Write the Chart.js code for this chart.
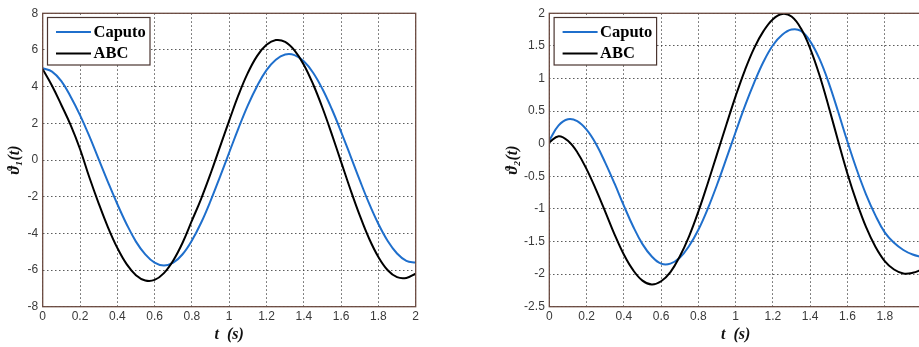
<!DOCTYPE html>
<html><head><meta charset="utf-8">
<script src="https://cdn.jsdelivr.net/npm/chart.js@4/dist/chart.umd.min.js"></script>
<style>
html,body{margin:0;padding:0;background:#fff;overflow:hidden;width:919px;height:347px;}
#c1{position:absolute;left:0;top:0;}
#c2{position:absolute;left:500px;top:0;}
</style></head><body>
<canvas id="c1" width="460" height="347"></canvas>
<canvas id="c2" width="440" height="347"></canvas>
<script>
// time samples (s)
const t = [0,0.05,0.1,0.15,0.2,0.25,0.3,0.35,0.4,0.45,0.5,0.55,0.6,0.65,0.7,0.75,0.8,0.85,0.9,0.95,1,1.05,1.1,1.15,1.2,1.25,1.3,1.35,1.4,1.45,1.5,1.55,1.6,1.65,1.7,1.75,1.8,1.85,1.9,1.95,2];
// theta_1(t)
const theta1Caputo = [5.00,4.82,4.30,3.45,2.45,1.30,0.05,-1.20,-2.40,-3.50,-4.45,-5.15,-5.60,-5.76,-5.60,-5.14,-4.39,-3.41,-2.23,-0.93,0.41,1.74,2.98,4.04,4.90,5.47,5.75,5.72,5.38,4.76,3.87,2.78,1.54,0.23,-1.10,-2.37,-3.49,-4.42,-5.10,-5.50,-5.59];
const theta1ABC = [4.95,4.05,3.00,1.90,0.60,-0.94,-2.36,-3.67,-4.79,-5.68,-6.28,-6.57,-6.54,-6.17,-5.48,-4.51,-3.31,-2.10,-0.75,0.70,2.15,3.55,4.75,5.68,6.28,6.54,6.44,5.98,5.20,4.13,2.85,1.41,-0.10,-1.61,-3.02,-4.28,-5.29,-6.01,-6.39,-6.43,-6.20];
// theta_2(t)
const theta2Caputo = [0.05,0.28,0.375,0.345,0.215,0.00,-0.29,-0.61,-0.95,-1.27,-1.54,-1.73,-1.84,-1.84,-1.75,-1.57,-1.32,-1.00,-0.63,-0.23,0.18,0.58,0.94,1.26,1.51,1.67,1.75,1.73,1.57,1.30,0.93,0.49,0.03,-0.40,-0.78,-1.10,-1.36,-1.52,-1.63,-1.70,-1.74];
const theta2ABC = [0.02,0.115,0.045,-0.13,-0.39,-0.70,-1.04,-1.39,-1.70,-1.94,-2.10,-2.16,-2.11,-1.97,-1.73,-1.42,-1.04,-0.61,-0.16,0.29,0.73,1.13,1.47,1.73,1.91,1.99,1.95,1.77,1.46,1.05,0.56,0.04,-0.46,-0.90,-1.28,-1.58,-1.80,-1.93,-1.99,-1.98,-1.93];
// tick labels
const xTicks = [0,0.2,0.4,0.6,0.8,1,1.2,1.4,1.6,1.8,2];
const theta1Ticks = [-8,-6,-4,-2,0,2,4,6,8];
const theta2Ticks = [-2.5,-2,-1.5,-1,-0.5,0,0.5,1,1.5,2];
const seriesNames = ['Caputo','ABC'];
const seriesColors = ['#1f6fcc','#000000'];
const xTitle = 't  (s)';
const yTitle1 = 'ϑ\u2081(t)';
const yTitle2 = 'ϑ\u2082(t)';

const FRAME = '#6a4a40';
const framePlugin = {
  id:'frame',
  afterDatasetsDraw(chart){
    const {ctx, chartArea:a} = chart;
    ctx.save();
    ctx.strokeStyle = FRAME; ctx.lineWidth = 1.3;
    ctx.strokeRect(a.left, a.top, a.right-a.left, a.bottom-a.top);
    ctx.restore();
  }
};
const legendPlugin = {
  id:'insideLegend',
  afterDraw(chart){
    const {ctx, chartArea:a} = chart;
    const x0 = a.left + 4.8, y0 = a.top + 4.2, w = 102.5, h = 47.5;
    ctx.save();
    ctx.fillStyle = '#fff';
    ctx.fillRect(x0, y0, w, h);
    ctx.strokeStyle = '#4a3530'; ctx.lineWidth = 1.2;
    ctx.strokeRect(x0, y0, w, h);
    ctx.font = 'bold 16.5px "Liberation Serif", "Times New Roman", serif';
    ctx.textBaseline = 'middle';
    chart.data.datasets.forEach((ds, i) => {
      const yy = y0 + 14.4 + i*21.6;
      ctx.strokeStyle = ds.borderColor; ctx.lineWidth = 2;
      ctx.beginPath(); ctx.moveTo(x0+8.5, yy); ctx.lineTo(x0+43.5, yy); ctx.stroke();
      ctx.fillStyle = '#000';
      ctx.fillText(ds.label, x0+46, yy+0.5);
    });
    ctx.restore();
  }
};

function makeChart(id, ys, yTicks, yTitle, yWidth, yTitlePad, padRight){
  const datasets = ys.map((arr, k) => ({
    label: seriesNames[k],
    data: t.map((x, i) => ({x: x, y: arr[i]})),
    borderColor: seriesColors[k],
    borderWidth: 2,
    pointRadius: 0,
    fill: false,
    tension: 0.4,
    order: 1 - k
  }));
  const tickFont = {family:'"Liberation Sans", Arial, sans-serif', size:12};
  const titleFont = {family:'"Liberation Serif", "DejaVu Serif", serif', size:16, style:'italic', weight:'bold', lineHeight:1.2};
  return new Chart(document.getElementById(id), {
    type:'line',
    data:{datasets},
    options:{
      responsive:false, animation:false, devicePixelRatio:1,
      layout:{padding:{top:13.3, right:padRight, bottom:0, left:0}},
      plugins:{legend:{display:false}, tooltip:{enabled:false}},
      scales:{
        x:{
          type:'linear', min:0, max:2,
          afterBuildTicks(s){ s.ticks = xTicks.map(v => ({value:v})); },
          afterFit(s){ s.height = 40.3; },
          ticks:{color:'#3a3a3a', font:tickFont, padding:3, maxRotation:0, autoSkip:false, callback:v => String(v)},
          grid:{color:'rgba(50,50,50,0.8)', lineWidth:1, drawTicks:false},
          border:{display:false, dash:[1.5,2.5]},
          title:{display:true, text:xTitle, color:'#111', font:titleFont, padding:{top:0, bottom:2.4}}
        },
        y:{
          type:'linear', min:yTicks[0], max:yTicks[yTicks.length-1],
          afterBuildTicks(s){ s.ticks = yTicks.map(v => ({value:v})); },
          afterFit(s){ s.width = yWidth; },
          ticks:{color:'#3a3a3a', font:tickFont, padding:4.5, autoSkip:false, callback:v => String(v)},
          grid:{color:'rgba(50,50,50,0.8)', lineWidth:1, drawTicks:false},
          border:{display:false, dash:[1.5,2.5]},
          title:{display:true, text:yTitle, color:'#111', font:titleFont, padding:{top:yTitlePad, bottom:0}}
        }
      }
    },
    plugins:[framePlugin, legendPlugin]
  });
}

makeChart('c1', [theta1Caputo, theta1ABC], theta1Ticks, yTitle1, 42.7, 5.4, 44.3);
makeChart('c2', [theta2Caputo, theta2ABC], theta2Ticks, yTitle2, 49.3, 3.4, 18);
</script>
</body></html>
